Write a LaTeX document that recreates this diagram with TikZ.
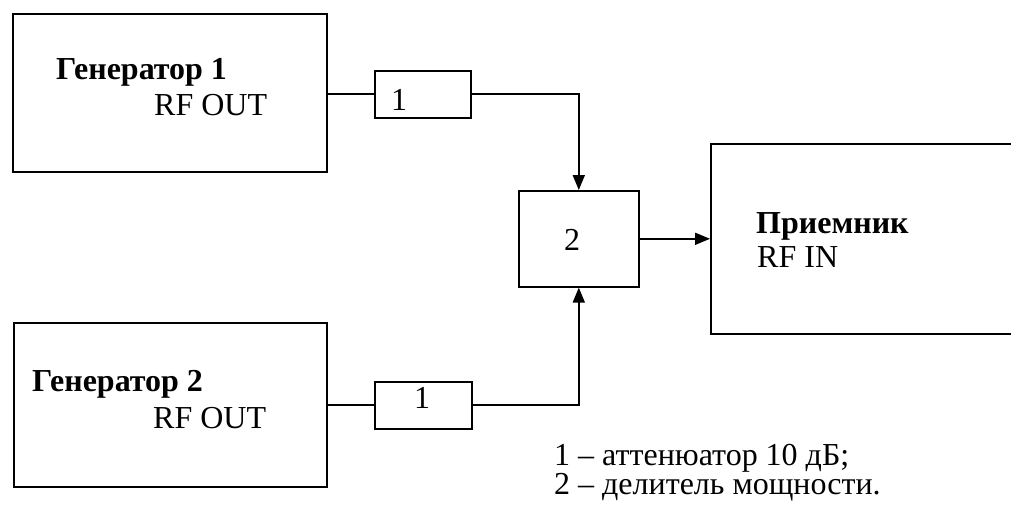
\documentclass[tikz,border=0pt]{standalone}
\usepackage{fontspec}
\setmainfont{Liberation Serif}
\usetikzlibrary{arrows.meta}
\begin{document}
\begin{tikzpicture}[x=1pt,y=-1pt,
  blk/.style={draw, line width=1.6pt, inner sep=0pt, anchor=north west},
  lbl/.style={anchor=base west, inner sep=0pt, font=\fontsize{32}{36}\selectfont},
  blbl/.style={lbl, font=\fontsize{32}{36}\selectfont\bfseries},
  conn/.style={line width=1.8pt},
  arr/.style={conn, -{Triangle[length=15pt,width=12pt]}}]
\useasboundingbox (0,0) rectangle (1011,507);
\node[blk, minimum width=314pt, minimum height=158pt] (g1) at (12,13) {};
\node[blk, minimum width=96pt, minimum height=47pt] (a1) at (374,70) {};
\node[blk, minimum width=120pt, minimum height=96pt] (d) at (518,190) {};
\node[blk, minimum width=330pt, minimum height=190pt] (r) at (710,143) {};
\node[blk, minimum width=313pt, minimum height=164pt] (g2) at (13,322) {};
\node[blk, minimum width=97pt, minimum height=47pt] (a2) at (374,381) {};
\node[blbl] (t1) at (56,79) {Генератор 1};
\node[lbl] (o1) at (154,115) {RF OUT};
\node[blbl] (t2) at (32,391) {Генератор 2};
\node[lbl] (o2) at (153,428) {RF OUT};
\node[blbl] (tr) at (756,233) {Приемник};
\node[lbl] (ir) at (757,267) {RF IN};
\node[lbl] (n1) at (391,110) {1};
\node[lbl] (n2) at (414,408) {1};
\node[lbl] (nd) at (564,250) {2};
\node[lbl] (l1) at (554,465) {1 – аттенюатор 10 дБ;};
\node[lbl] (l2) at (554,494) {2 – делитель мощности.};
\draw[conn] (a1.west -| g1.east) -- (a1.west);
\draw[conn] (a2.west -| g2.east) -- (a2.west);
\draw[arr] (a1.east) -| (d.north);
\draw[arr] (a2.east) -| (d.south);
\draw[arr] (d.east) -- (d.east -| r.west);
\end{tikzpicture}
\end{document}
